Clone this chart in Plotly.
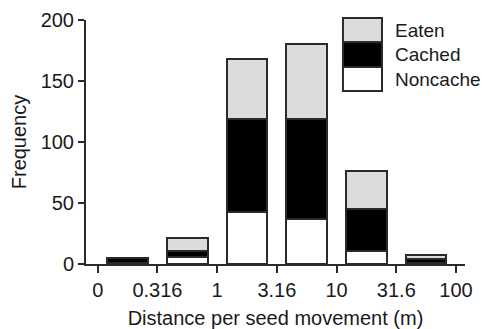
import numpy as np
import plotly.graph_objects as go

# Data
tick_labels = ["0", "0.316", "1", "3.16", "10", "31.6", "100"]
series_names = ["Noncache", "Cached", "Eaten"]
noncache = [1, 6, 43, 37, 11, 1]
cached = [4, 5, 76, 82, 34, 3]
eaten = [0, 10, 49, 61, 31, 3]

series_values = [noncache, cached, eaten]
colors = ["#ffffff", "#000000", "#dcdcdc"]
outline = "#2a2a2a"
FONT = "Liberation Sans, Arial, sans-serif"

tick_pos = np.arange(len(tick_labels))
bar_pos = tick_pos[:-1] + 0.5

fig = go.Figure()
for name, vals, col in zip(series_names, series_values, colors):
    fig.add_trace(go.Bar(
        x=bar_pos, y=vals, name=name, width=0.68,
        marker=dict(color=col, line=dict(color=outline, width=2)),
        showlegend=False,
    ))

# Manual legend (boxes stacked, text to the right), in paper coordinates
leg_x0, leg_x1, leg_tx = 0.678, 0.781, 0.810
row_edges = [1.008, 0.909, 0.807, 0.709]
legend_order = [2, 1, 0]  # Eaten, Cached, Noncache
shapes = []
annotations = []
for i, idx in enumerate(legend_order):
    y1, y0 = row_edges[i], row_edges[i + 1]
    shapes.append(dict(type="rect", xref="paper", yref="paper",
                       x0=leg_x0, x1=leg_x1, y0=y0, y1=y1,
                       fillcolor=colors[idx], line=dict(color=outline, width=2)))
    annotations.append(dict(xref="paper", yref="paper", x=leg_tx, y=(y0 + y1) / 2,
                            text=series_names[idx], showarrow=False,
                            xanchor="left", yanchor="middle",
                            font=dict(size=19, color="#1a1a1a", family=FONT)))

fig.update_layout(
    barmode="stack",
    bargap=0,
    width=482, height=329,
    margin=dict(l=86, r=17, t=20, b=65),
    plot_bgcolor="white", paper_bgcolor="white",
    font=dict(family=FONT, color="#1a1a1a", size=20),
    shapes=shapes,
    annotations=annotations,
    xaxis=dict(
        range=[-0.196, 6.15],
        automargin=False,
        tickmode="array", tickvals=tick_pos, ticktext=tick_labels,
        ticks="outside", ticklen=7, tickwidth=2, tickcolor=outline,
        showline=True, linecolor=outline, linewidth=2,
        showgrid=False, zeroline=False,
        tickfont=dict(size=20),
        title=dict(text="Distance per seed movement (m)", font=dict(size=20), standoff=11),
    ),
    yaxis=dict(
        range=[0, 200],
        automargin=False,
        tickvals=[0, 50, 100, 150, 200],
        ticks="outside", ticklen=6, tickwidth=2, tickcolor=outline,
        showline=True, linecolor=outline, linewidth=2,
        showgrid=False, zeroline=False,
        tickfont=dict(size=20),
        title=dict(text="Frequency", font=dict(size=20), standoff=9),
    ),
)

fig.write_html("out.html")
